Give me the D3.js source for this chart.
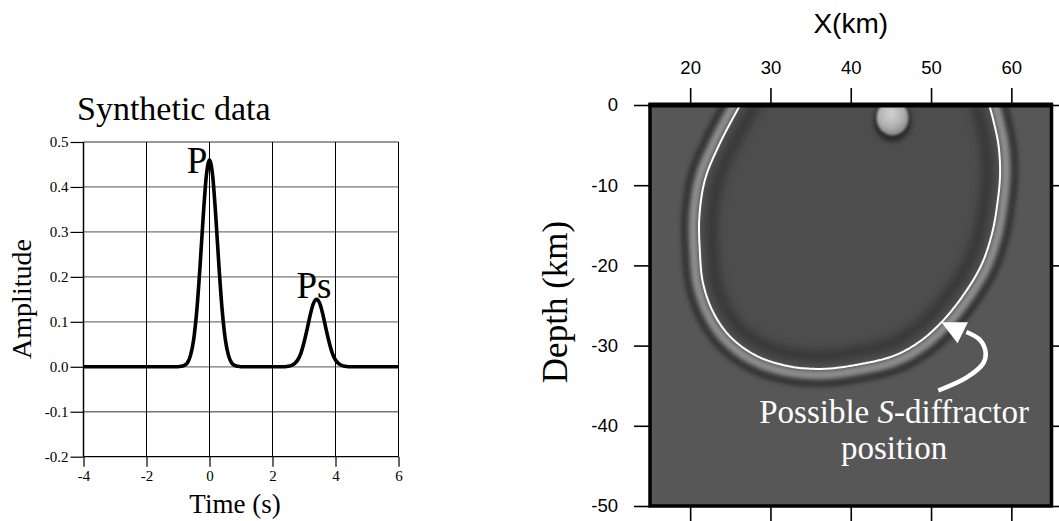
<!DOCTYPE html>
<html>
<head>
<meta charset="utf-8">
<script src="https://cdn.jsdelivr.net/npm/d3@7"></script>
<style>
  html, body { margin: 0; padding: 0; background: #fff; }
  svg { display: block; }
</style>
</head>
<body>
<svg id="chart" width="1059" height="521"></svg>
<script>
// ——— trace synthétique (temps en s / amplitude)
const traceTime = [-4,
  -1.0, -0.9, -0.8, -0.7, -0.6, -0.5, -0.4, -0.3, -0.2, -0.1, 0,
  0.1, 0.2, 0.3, 0.4, 0.5, 0.6, 0.7, 0.8, 0.9, 1.0,
  2.4, 2.5, 2.6, 2.7, 2.8, 2.9, 3.0, 3.1, 3.2, 3.3, 3.4,
  3.5, 3.6, 3.7, 3.8, 3.9, 4.0, 4.1, 4.2, 4.3, 4.4,
  6];
const traceAmp = [0,
  0, 0.001, 0.003, 0.009, 0.026, 0.062, 0.128, 0.224, 0.334, 0.425, 0.46,
  0.425, 0.334, 0.224, 0.128, 0.062, 0.026, 0.009, 0.003, 0.001, 0,
  0, 0.001, 0.003, 0.007, 0.015, 0.030, 0.054, 0.084, 0.116, 0.141, 0.150,
  0.141, 0.116, 0.084, 0.054, 0.030, 0.015, 0.007, 0.003, 0.001, 0,
  0];
const peakNames = ["P", "Ps"];
const peakTime = [-0.72, 2.76];
const peakAmp = [0.43, 0.152];
const timeTicks = [-4, -2, 0, 2, 4, 6];
const ampTicks = [-0.2, -0.1, 0, 0.1, 0.2, 0.3, 0.4, 0.5];

// ——— image migrée (X en km / profondeur en km)
const xTicks = [20, 30, 40, 50, 60];
const depthTicks = [0, -10, -20, -30, -40, -50];
const ringX = [27.4, 26.0, 23.5, 21.85, 21.15, 21.2, 21.6, 22.9, 25.0, 28.3, 32.4, 36.6,
  40.7, 45.3, 48.3, 51.0, 53.6, 56.2, 57.6, 58.3, 58.6, 58.4, 57.9, 57.3, 56.6];
const ringDepth = [2, -0.4, -5.2, -9.3, -13.9, -18.1, -22.2, -25.9, -28.9, -31.3, -32.6, -32.9,
  -32.4, -31.3, -29.7, -27.4, -24.3, -20.1, -16.0, -12.0, -8.5, -5.0, -2.5, -0.2, 2];
const blobX = [45.2];
const blobDepth = [-1.6];
const blobRadius = [2.0];
const arrowX = [50.9, 54.4, 56.5, 56.8, 56.1, 54.4];
const arrowDepth = [-35.6, -34.0, -32.2, -30.9, -29.3, -28.3];
const arrowHeadX = [51.3, 54.6, 53.3];
const arrowHeadDepth = [-27.1, -27.1, -29.7];
const noteLines = [["Possible ", "S", "-diffractor"], ["position"]];
const noteX = 45.4;
const noteDepth = [-39.6, -44.2];

const svg = d3.select("#chart");
const serif = '"Liberation Serif","Times New Roman",serif';
const sans = '"Liberation Sans",Arial,Helvetica,sans-serif';
const minus = s => s.replace("\u2212", "-");

// ——————————————— panneau gauche
const x = d3.scaleLinear().domain([-4, 6]).range([83.5, 398.5]);
const y = d3.scaleLinear().domain([-0.2, 0.5]).range([456.7, 142]);
const left = svg.append("g");

// grille
left.selectAll(".hgrid").data(ampTicks).enter().append("line")
  .attr("x1", x(-4)).attr("x2", x(6))
  .attr("y1", d => y(d)).attr("y2", d => y(d))
  .attr("stroke", d => d === -0.2 ? "#000" : "#777")
  .attr("stroke-width", 1.3);
left.selectAll(".vgrid").data(timeTicks).enter().append("line")
  .attr("x1", d => x(d)).attr("x2", d => x(d))
  .attr("y1", y(-0.2)).attr("y2", y(0.5))
  .attr("stroke", "#000")
  .attr("stroke-width", d => d === -4 ? 1.5 : 1);

// axes
const ax = left.append("g").attr("transform", `translate(0,${y(-0.2)})`)
  .call(d3.axisBottom(x).tickValues(timeTicks).tickSize(10).tickPadding(4).tickFormat(d => minus(d3.format("d")(d))));
const ay = left.append("g").attr("transform", `translate(${x(-4)},0)`)
  .call(d3.axisLeft(y).tickValues(ampTicks).tickSize(13).tickPadding(2).tickFormat(d => minus(d3.format(".1f")(d))));
[ax, ay].forEach(a => {
  a.select(".domain").remove();
  a.selectAll("line").attr("stroke", "#000").attr("stroke-width", 1.2);
  a.selectAll("text").attr("font-family", serif).attr("font-size", 15).attr("fill", "#000");
});

// trace
const line = d3.line()
  .x((d, i) => x(traceTime[i]))
  .y((d, i) => y(traceAmp[i]))
  .curve(d3.curveMonotoneX);
left.append("path").datum(traceAmp)
  .attr("d", line)
  .attr("fill", "none").attr("stroke", "#000")
  .attr("stroke-width", 3.6).attr("stroke-linejoin", "round");

// étiquettes des phases
left.selectAll(".peak").data(peakNames).enter().append("text")
  .attr("x", (d, i) => x(peakTime[i]))
  .attr("y", (d, i) => y(peakAmp[i]))
  .attr("font-family", serif).attr("font-size", 37).text(d => d);

left.append("text").attr("x", 77).attr("y", 120)
  .attr("font-family", serif).attr("font-size", 34).text("Synthetic data");
left.append("text").attr("x", 235).attr("y", 513).attr("text-anchor", "middle")
  .attr("font-family", serif).attr("font-size", 27).text("Time (s)");
left.append("text").attr("transform", "translate(31,299) rotate(-90)").attr("text-anchor", "middle")
  .attr("font-family", serif).attr("font-size", 28).text("Amplitude");

// ——————————————— panneau droit
const xk = d3.scaleLinear().domain([15, 65]).range([650, 1051.5]);
const yd = d3.scaleLinear().domain([-50, 0]).range([506, 105]);
const right = svg.append("g");
const defs = svg.append("defs");

defs.append("clipPath").attr("id", "frame")
  .append("rect").attr("x", xk(15)).attr("y", yd(0))
  .attr("width", xk(65) - xk(15)).attr("height", yd(-50) - yd(0));

function blur(id, s) {
  defs.append("filter").attr("id", id)
    .attr("filterUnits", "userSpaceOnUse")
    .attr("x", 500).attr("y", 0).attr("width", 600).attr("height", 560)
    .append("feGaussianBlur").attr("stdDeviation", s);
}
blur("b4", 4); blur("b3", 3); blur("b2", 2); blur("b1", 1);

const grad = defs.append("radialGradient").attr("id", "blobg").attr("cx", "45%").attr("cy", "38%").attr("r", "60%");
grad.append("stop").attr("offset", "0%").attr("stop-color", "#d2d2d2");
grad.append("stop").attr("offset", "65%").attr("stop-color", "#b0b0b0");
grad.append("stop").attr("offset", "100%").attr("stop-color", "#8a8a8a");

const img = right.append("g").attr("clip-path", "url(#frame)");
img.append("rect").attr("x", xk(15)).attr("y", yd(0))
  .attr("width", xk(65) - xk(15)).attr("height", yd(-50) - yd(0))
  .attr("fill", "#575757");

// anneau : trait lissé, échantillonné finement, puis décalé le long de la normale
const pts = ringX.map((v, i) => [xk(v), yd(ringDepth[i])]);
const ringLine = d3.line().curve(d3.curveCatmullRom.alpha(0.5));
const probe = svg.append("path").attr("d", ringLine(pts)).attr("fill", "none").attr("stroke", "none");
const total = probe.node().getTotalLength();
const dense = d3.range(0, total + 0.01, 2).map(l => {
  const p = probe.node().getPointAtLength(Math.min(l, total));
  return [p.x, p.y];
});
probe.remove();
const cx = d3.mean(dense, p => p[0]), cy = d3.mean(dense, p => p[1]);
function offset(d) {
  return dense.map((p, i) => {
    const a = dense[Math.max(0, i - 3)], b = dense[Math.min(dense.length - 1, i + 3)];
    let nx = -(b[1] - a[1]), ny = b[0] - a[0];
    const len = Math.hypot(nx, ny) || 1;
    nx /= len; ny /= len;
    if (nx * (p[0] - cx) + ny * (p[1] - cy) < 0) { nx = -nx; ny = -ny; }
    return [p[0] + d * nx, p[1] + d * ny];
  });
}
const plain = d3.line();

img.append("path").attr("d", plain(dense) + "Z")
  .attr("fill", "#4e4e4e").attr("filter", "url(#b3)");
img.append("path").attr("d", plain(offset(-13)))
  .attr("fill", "none").attr("stroke", "#373737").attr("stroke-width", 12).attr("filter", "url(#b4)");
img.append("path").attr("d", plain(offset(6)))
  .attr("fill", "none").attr("stroke", "#8e8e8e").attr("stroke-width", 8).attr("filter", "url(#b2)");
img.append("path").attr("d", plain(offset(15)))
  .attr("fill", "none").attr("stroke", "#303030").attr("stroke-width", 6).attr("filter", "url(#b2)");

// petit diffracteur en surface
const rpx = xk(blobX[0] + blobRadius[0]) - xk(blobX[0]);
img.append("ellipse")
  .attr("cx", xk(blobX[0])).attr("cy", yd(blobDepth[0]) + 3)
  .attr("rx", rpx + 3).attr("ry", rpx + 5)
  .attr("fill", "#2a2a2a").attr("filter", "url(#b2)");
img.append("ellipse")
  .attr("cx", xk(blobX[0])).attr("cy", yd(blobDepth[0]))
  .attr("rx", rpx).attr("ry", rpx + 1.5)
  .attr("fill", "url(#blobg)").attr("filter", "url(#b1)");

// trait blanc
img.append("path").attr("d", plain(dense))
  .attr("fill", "none").attr("stroke", "#fff").attr("stroke-width", 2);

// flèche + annotation
const arrowPts = arrowX.map((v, i) => [xk(v), yd(arrowDepth[i])]);
img.append("path").attr("d", d3.line().curve(d3.curveCatmullRom)(arrowPts))
  .attr("fill", "none").attr("stroke", "#fff").attr("stroke-width", 4.5);
img.append("polygon")
  .attr("points", arrowHeadX.map((v, i) => [xk(v), yd(arrowHeadDepth[i])].join(",")).join(" "))
  .attr("fill", "#fff");

const note = img.append("g").attr("font-family", serif).attr("font-size", 33).attr("fill", "#fff");
noteLines.forEach((parts, k) => {
  const t = note.append("text").attr("x", xk(noteX)).attr("y", yd(noteDepth[k])).attr("text-anchor", "middle");
  parts.forEach(p => t.append("tspan").attr("font-style", p === "S" ? "italic" : "normal").text(p));
});

// cadre
right.append("rect").attr("x", xk(15)).attr("y", yd(0))
  .attr("width", xk(65) - xk(15)).attr("height", yd(-50) - yd(0))
  .attr("fill", "none").attr("stroke", "#000").attr("stroke-width", 3.5);
right.append("line").attr("x1", xk(15) - 1.5).attr("x2", xk(65) + 1.5)
  .attr("y1", yd(0)).attr("y2", yd(0)).attr("stroke", "#000").attr("stroke-width", 5);

// axes
const fmtK = d => minus(d3.format("d")(d));
const at = right.append("g").attr("transform", `translate(0,${yd(0)})`)
  .call(d3.axisTop(xk).tickValues(xTicks).tickSize(17).tickPadding(14).tickFormat(fmtK));
const al = right.append("g").attr("transform", `translate(${xk(15)},0)`)
  .call(d3.axisLeft(yd).tickValues(depthTicks).tickSize(16).tickPadding(16).tickFormat(fmtK));
const ab = right.append("g").attr("transform", `translate(0,${yd(-50)})`)
  .call(d3.axisBottom(xk).tickValues(xTicks).tickSize(17).tickFormat(""));
const ar = right.append("g").attr("transform", `translate(${xk(65)},0)`)
  .call(d3.axisRight(yd).tickValues(depthTicks).tickSize(16).tickFormat(""));
[at, al, ab, ar].forEach(a => {
  a.select(".domain").remove();
  a.selectAll("line").attr("stroke", "#000").attr("stroke-width", 1.6);
  a.selectAll("text").attr("font-family", sans).attr("font-size", 18.5).attr("fill", "#000");
});

right.append("text").attr("x", xk(40)).attr("y", 33).attr("text-anchor", "middle")
  .attr("font-family", sans).attr("font-size", 28).text("X(km)");
right.append("text").attr("transform", "translate(567,302) rotate(-90)").attr("text-anchor", "middle")
  .attr("font-family", serif).attr("font-size", 35).text("Depth (km)");
</script>
</body>
</html>
